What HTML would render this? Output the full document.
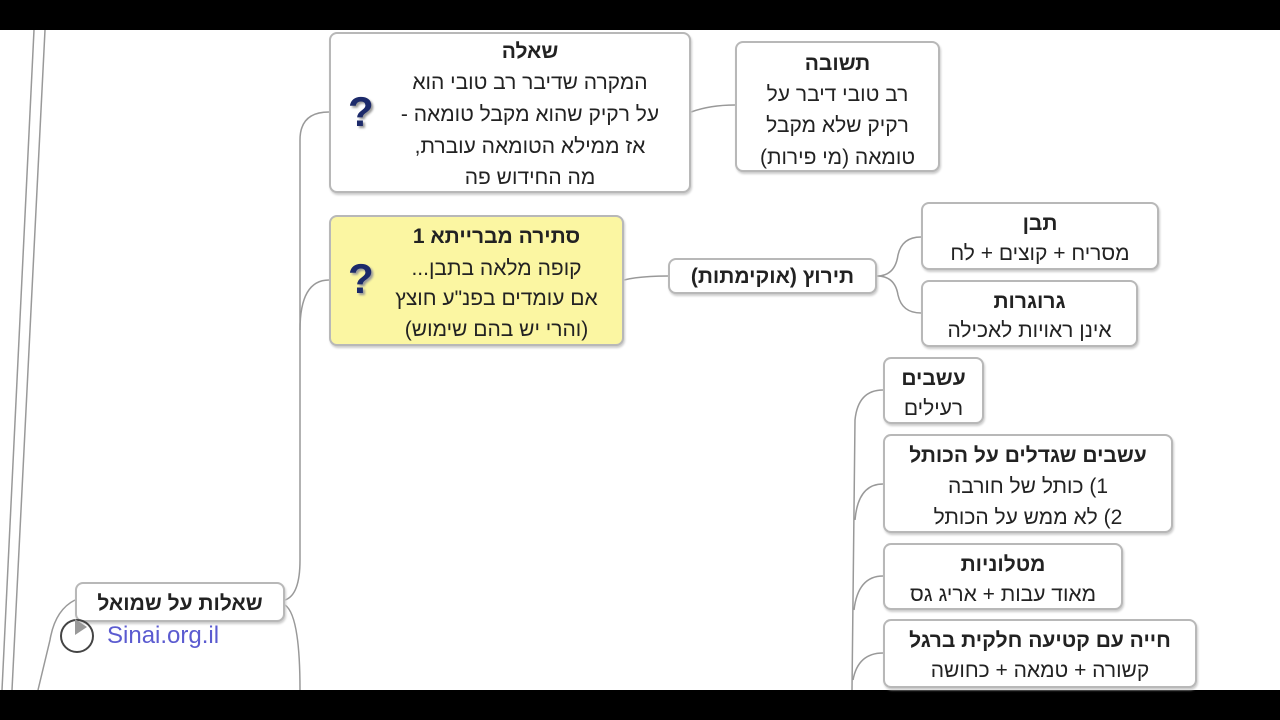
<!DOCTYPE html>
<html><head><meta charset="utf-8"><style>
body{margin:0;width:1280px;height:720px;overflow:hidden;background:#fff;font-family:"Liberation Sans","DejaVu Sans",sans-serif;position:relative}
.bar{position:absolute;left:0;width:1280px;background:#000}
.b{position:absolute;box-sizing:border-box;border:2px solid #b8b8b8;border-radius:8px;background:#fff;direction:rtl;text-align:center;color:#222;font-size:21px;box-shadow:1px 2px 2px #ccc}
.b div{position:absolute;left:0;right:0;white-space:nowrap}
.t{font-weight:bold}
.q{position:absolute;font-size:42px;font-weight:bold;color:#1c2a6a;font-family:"Liberation Sans",sans-serif;text-shadow:2px 2px 2px #999}
svg{position:absolute;left:0;top:0}
</style></head><body>
<svg width="1280" height="720" fill="none" stroke="#999" stroke-width="1.5">
<path d="M45 30 L12 690"/><path d="M34 30 L2 690"/>
<path d="M75 600 Q55 610 50 640 L38 690"/>
<path d="M285 600 Q300 595 300 560 L300 140 Q300 112 329 112"/>
<path d="M300 330 Q300 280 329 280"/>
<path d="M285 605 Q300 615 300 690"/>
<path d="M691 112 Q710 105 735 105"/>
<path d="M624 280 Q640 276 668 276"/>
<path d="M877 276 Q895 276 898 255 Q902 237 921 237"/>
<path d="M877 276 Q895 276 898 295 Q902 313 921 313"/>
<path d="M852 690 L855 420 Q858 390 883 390"/>
<path d="M855 520 Q858 484 883 484"/>
<path d="M854 610 Q858 576 883 576"/>
<path d="M853 680 Q858 653 883 653"/>
</svg>
<div class="bar" style="top:0;height:30px"></div>
<div class="bar" style="top:690px;height:30px"></div>

<div class="b" style="left:329px;top:32px;width:362px;height:161px">
<div class="t" style="top:6px;left:40px">שאלה</div>
<div style="top:37px;left:40px">המקרה שדיבר רב טובי הוא</div>
<div style="top:69px;left:40px">על רקיק שהוא מקבל טומאה -</div>
<div style="top:101px;left:40px">אז ממילא הטומאה עוברת,</div>
<div style="top:132px;left:40px">מה החידוש פה</div>
</div>
<div class="q" style="left:348px;top:88px">?</div>

<div class="b" style="left:735px;top:41px;width:205px;height:131px">
<div class="t" style="top:9px">תשובה</div>
<div style="top:40px">רב טובי דיבר על</div>
<div style="top:71px">רקיק שלא מקבל</div>
<div style="top:103px">טומאה (מי פירות)</div>
</div>

<div class="b" style="left:329px;top:215px;width:295px;height:131px;background:#fbf6a2">
<div class="t" style="top:8px;left:40px">סתירה מברייתא 1</div>
<div style="top:40px;left:40px">קופה מלאה בתבן...</div>
<div style="top:70px;left:40px">אם עומדים בפנ"ע חוצץ</div>
<div style="top:101px;left:40px">(והרי יש בהם שימוש)</div>
</div>
<div class="q" style="left:348px;top:255px">?</div>

<div class="b" style="left:668px;top:258px;width:209px;height:36px"><div class="t" style="top:5px">תירוץ (אוקימתות)</div></div>

<div class="b" style="left:921px;top:202px;width:238px;height:68px">
<div class="t" style="top:8px">תבן</div><div style="top:38px">מסריח + קוצים + לח</div></div>
<div class="b" style="left:921px;top:280px;width:217px;height:67px">
<div class="t" style="top:8px">גרוגרות</div><div style="top:37px">אינן ראויות לאכילה</div></div>

<div class="b" style="left:883px;top:357px;width:101px;height:67px">
<div class="t" style="top:8px">עשבים</div><div style="top:38px">רעילים</div></div>
<div class="b" style="left:883px;top:434px;width:290px;height:99px">
<div class="t" style="top:8px">עשבים שגדלים על הכותל</div><div style="top:39px">1) כותל של חורבה</div><div style="top:70px">2) לא ממש על הכותל</div></div>
<div class="b" style="left:883px;top:543px;width:240px;height:67px">
<div class="t" style="top:8px">מטלוניות</div><div style="top:38px">מאוד עבות + אריג גס</div></div>
<div class="b" style="left:883px;top:619px;width:314px;height:69px">
<div class="t" style="top:8px">חייה עם קטיעה חלקית ברגל</div><div style="top:38px">קשורה + טמאה + כחושה</div></div>

<div class="b" style="left:75px;top:582px;width:210px;height:40px"><div class="t" style="top:8px">שאלות על שמואל</div></div>

<div style="position:absolute;left:60px;top:619px;width:30px;height:30px;border:2px solid #444;border-radius:50%"></div>
<div style="position:absolute;left:75px;top:619px;width:0;height:0;border-left:12px solid #999;border-top:8px solid transparent;border-bottom:8px solid transparent"></div>
<div style="position:absolute;left:107px;top:622px;font-size:24px;color:#5b5bd0">Sinai.org.il</div>
</body></html>
